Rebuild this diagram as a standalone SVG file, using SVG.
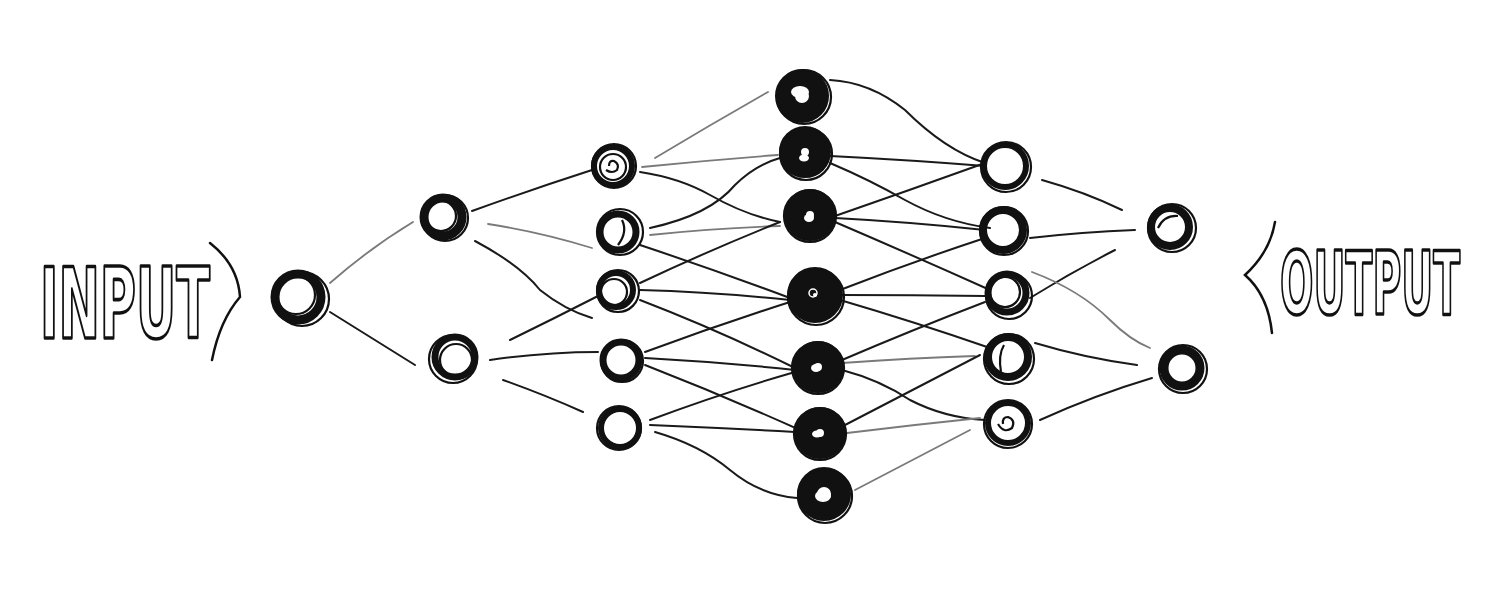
<svg xmlns="http://www.w3.org/2000/svg" width="1500" height="600" viewBox="0 0 1500 600">
<style>
.bg{fill:#fff}
.c{fill:none;stroke:#1a1a1a;stroke-width:2;stroke-linecap:round}
.g{fill:none;stroke:#7a7a7a;stroke-width:1.8;stroke-linecap:round}
.band{fill:none;stroke:#111}
.sc{fill:none;stroke:#111;stroke-width:2.2}
.lbl{font-family:"DejaVu Sans","Liberation Sans",sans-serif;font-weight:bold;fill:#fff;stroke:#111;stroke-width:3.5;stroke-linejoin:round}
.brace{fill:none;stroke:#111;stroke-width:2.5;stroke-linecap:round}
</style>
<rect class="bg" x="0" y="0" width="1500" height="600"/>

<g id="connectors">
<path class="g" d="M330,283 Q370,248 413,222"/>
<path class="c" d="M330,312 Q372,338 415,365"/>
<path class="c" d="M472,211 Q530,190 592,170"/>
<path class="g" d="M488,224 Q540,232 592,248"/>
<path class="c" d="M475,241 Q520,265 540,290 Q565,310 592,318"/>
<path class="c" d="M510,340 Q555,318 598,296"/>
<path class="c" d="M490,360 Q545,352 598,352"/>
<path class="c" d="M503,380 Q545,395 583,412"/>

<path class="g" d="M655,158 Q710,125 768,92"/>
<path class="g" d="M642,167 Q710,160 778,155"/>
<path class="c" d="M640,172 Q680,178 710,195 Q745,215 780,222"/>
<path class="c" d="M650,228 Q710,215 735,185 Q755,165 780,158"/>
<path class="g" d="M650,235 Q715,228 780,226"/>
<path class="c" d="M640,245 Q715,270 790,298"/>
<path class="c" d="M640,283 Q710,250 780,222"/>
<path class="c" d="M640,290 Q715,292 790,300"/>
<path class="c" d="M640,300 Q718,330 795,368"/>
<path class="c" d="M645,352 Q718,325 790,302"/>
<path class="c" d="M645,358 Q720,362 795,370"/>
<path class="c" d="M645,365 Q722,395 800,430"/>
<path class="c" d="M650,420 Q722,393 795,372"/>
<path class="c" d="M650,425 Q722,428 795,432"/>
<path class="c" d="M655,432 Q700,445 730,470 Q760,495 797,498"/>

<path class="c" d="M830,80 Q870,82 905,110 Q945,150 985,163"/>
<path class="c" d="M830,156 Q910,160 985,166"/>
<path class="c" d="M830,163 Q870,180 905,200 Q945,222 990,228"/>
<path class="c" d="M835,216 Q910,190 985,163"/>
<path class="c" d="M835,218 Q910,222 985,230"/>
<path class="c" d="M835,222 Q912,255 990,290"/>
<path class="c" d="M840,290 Q912,262 985,238"/>
<path class="c" d="M840,295 Q912,295 985,296"/>
<path class="c" d="M840,300 Q915,322 990,348"/>
<path class="c" d="M842,360 Q912,330 985,302"/>
<path class="g" d="M842,363 Q910,358 975,356"/>
<path class="c" d="M842,370 Q880,380 910,400 Q945,418 985,420"/>
<path class="c" d="M845,425 Q912,390 980,355"/>
<path class="g" d="M847,433 Q912,425 980,418"/>
<path class="g" d="M855,490 Q912,460 970,430"/>

<path class="c" d="M1042,180 Q1085,192 1122,210"/>
<path class="c" d="M1030,238 Q1082,232 1135,230"/>
<path class="c" d="M1030,298 Q1072,272 1115,250"/>
<path class="g" d="M1032,272 Q1080,290 1110,320 Q1130,340 1150,348"/>
<path class="c" d="M1035,343 Q1085,358 1137,365"/>
<path class="c" d="M1040,420 Q1095,395 1152,378"/>
</g>

<g id="n0"><circle class="band" cx="298" cy="297" r="23" stroke-width="9"/><circle class="sc" cx="302" cy="299" r="27"/><circle class="sc" cx="296" cy="295" r="19"/></g>

<g id="n1a"><circle class="band" cx="443" cy="217" r="19" stroke-width="9"/><circle class="sc" cx="445" cy="218" r="23"/><circle class="sc" cx="441" cy="216" r="15"/></g>
<g id="n1b"><circle class="band" cx="455" cy="357" r="20" stroke-width="7"/><circle class="sc" cx="453" cy="359" r="24"/><circle class="sc" cx="456" cy="360" r="16"/></g>

<g id="n2a"><circle class="band" cx="613" cy="166" r="19" stroke-width="6"/><circle class="sc" cx="614" cy="166" r="22"/><circle class="sc" cx="613" cy="167" r="13"/><path class="sc" d="M606,170 Q612,174 617,170 Q620,164 614,161 Q609,160 609,166"/></g>
<g id="n2b"><circle class="band" cx="618" cy="232" r="18" stroke-width="7"/><circle class="sc" cx="620" cy="232" r="23"/><path class="sc" d="M622,220 Q628,232 618,245"/></g>
<g id="n2c"><circle class="band" cx="616" cy="290" r="17" stroke-width="6"/><circle class="sc" cx="618" cy="291" r="21"/><circle class="sc" cx="614" cy="292" r="13"/></g>
<g id="n2d"><circle class="band" cx="621" cy="360" r="18" stroke-width="7"/><circle class="sc" cx="622" cy="361" r="21"/></g>
<g id="n2e"><circle class="band" cx="620" cy="428" r="19" stroke-width="6"/><circle class="sc" cx="619" cy="428" r="22"/></g>

<g id="n3a"><circle class="band" cx="802" cy="96" r="17" stroke-width="20"/><circle class="sc" cx="804" cy="97" r="27"/><ellipse cx="800" cy="92" rx="9" ry="6" fill="#fff"/></g>
<g id="n3b"><circle class="band" cx="805" cy="152" r="15" stroke-width="22"/><circle class="sc" cx="806" cy="154" r="26"/><ellipse cx="804" cy="158" rx="5" ry="3.5" fill="#fff"/></g>
<g id="n3c"><circle class="band" cx="810" cy="215" r="15" stroke-width="22"/><circle class="sc" cx="810" cy="216" r="26"/><ellipse cx="809" cy="218" rx="5" ry="4" fill="#fff"/></g>
<g id="n3d"><circle class="band" cx="815" cy="295" r="15" stroke-width="26"/><circle class="sc" cx="816" cy="297" r="28"/><circle cx="813" cy="293" r="4" fill="none" stroke="#fff" stroke-width="1.5"/></g>
<g id="n3e"><circle class="band" cx="818" cy="367" r="15" stroke-width="22"/><circle class="sc" cx="818" cy="368" r="26"/><ellipse cx="816" cy="368" rx="5" ry="4" fill="#fff"/></g>
<g id="n3f"><circle class="band" cx="820" cy="433" r="15" stroke-width="22"/><circle class="sc" cx="820" cy="434" r="26"/><ellipse cx="817" cy="434" rx="5" ry="3.5" fill="#fff"/></g>
<g id="n3g"><circle class="band" cx="824" cy="494" r="17" stroke-width="20"/><circle class="sc" cx="825" cy="496" r="27"/><ellipse cx="823" cy="496" rx="8" ry="6" fill="#fff"/></g>

<g id="n4a"><circle class="band" cx="1005" cy="166" r="21" stroke-width="6"/><circle class="sc" cx="1006" cy="167" r="25"/></g>
<g id="n4b"><circle class="band" cx="1003" cy="230" r="20" stroke-width="8"/><circle class="sc" cx="1004" cy="231" r="24"/></g>
<g id="n4c"><circle class="band" cx="1007" cy="293" r="19" stroke-width="7"/><circle class="sc" cx="1009" cy="296" r="23"/><circle class="sc" cx="1005" cy="292" r="15"/></g>
<g id="n4d"><circle class="band" cx="1008" cy="357" r="20" stroke-width="8"/><circle class="sc" cx="1009" cy="359" r="25"/><path class="sc" d="M1004,345 Q998,355 1001,372"/></g>
<g id="n4e"><circle class="band" cx="1008" cy="423" r="20" stroke-width="6"/><circle class="sc" cx="1008" cy="424" r="24"/><path class="sc" d="M998,424 Q1004,434 1012,428 Q1016,420 1008,417 Q1002,417 1003,424"/></g>

<g id="n5a"><circle class="band" cx="1170" cy="227" r="19" stroke-width="8"/><circle class="sc" cx="1172" cy="228" r="24"/><path class="sc" d="M1158,228 Q1164,215 1178,216"/></g>
<g id="n5b"><circle class="band" cx="1182" cy="368" r="18" stroke-width="9"/><circle class="sc" cx="1183" cy="369" r="24"/></g>

<g id="input-label">
<text class="lbl" transform="translate(40,338) scale(0.505,1)" x="0" y="0" font-size="98" stroke-width="5">INPUT</text>
<path class="brace" d="M210,243 Q238,265 240,297 Q220,320 212,360"/>
</g>
<g id="output-label">
<text class="lbl" transform="translate(1280,314) scale(0.448,1)" x="0" y="0" font-size="88" stroke-width="5">OUTPUT</text>
<path class="brace" d="M1275,222 Q1270,252 1245,275 Q1268,295 1272,333"/>
</g>
</svg>
